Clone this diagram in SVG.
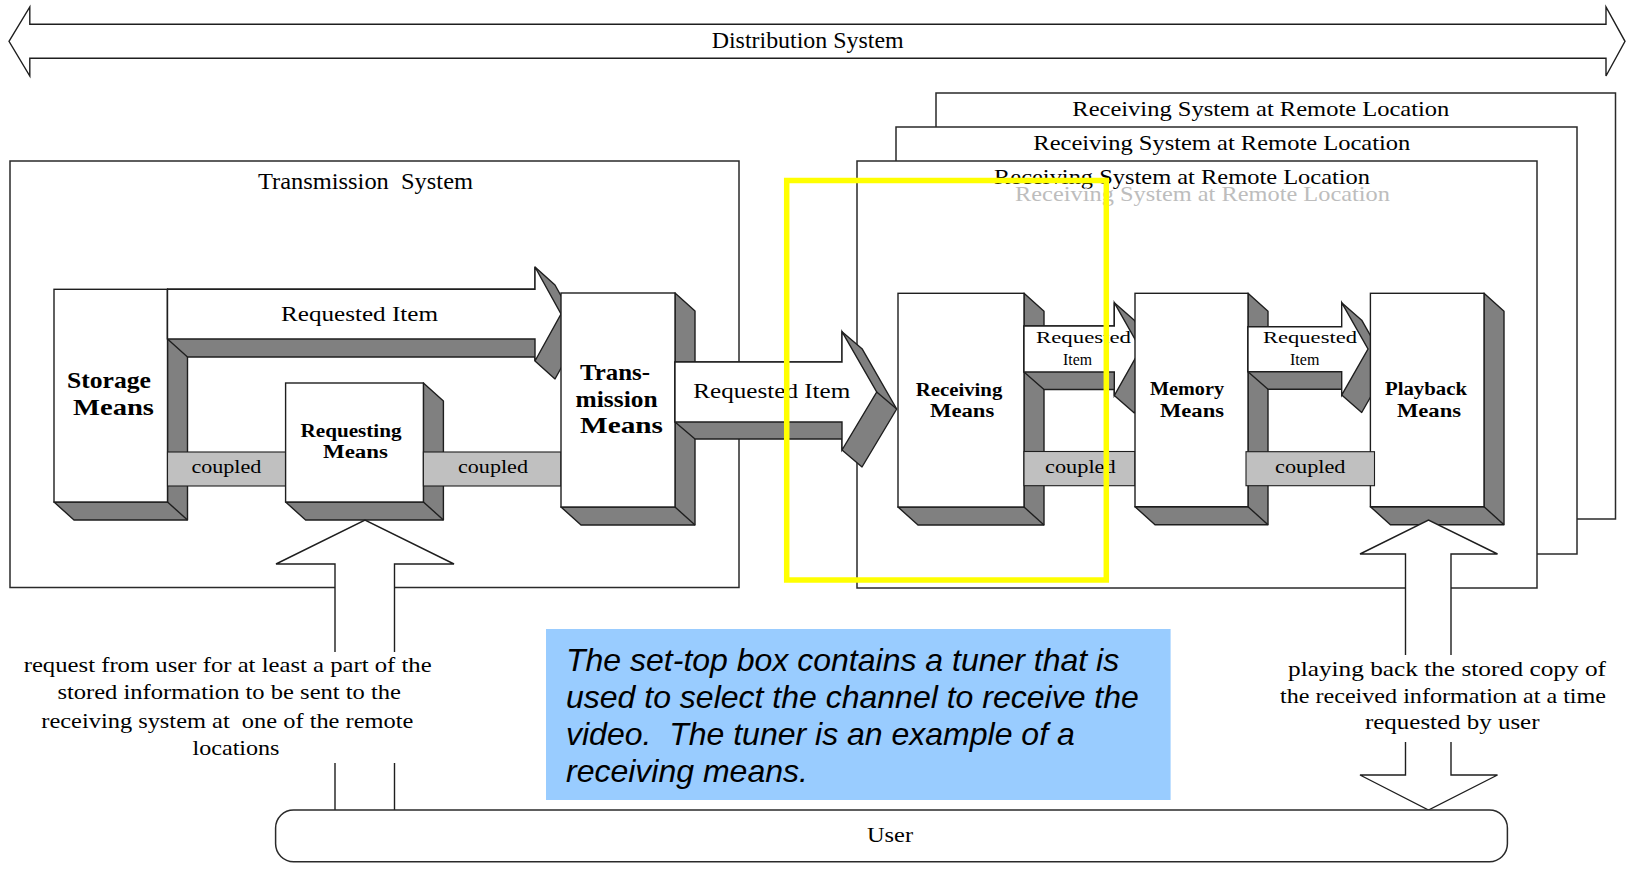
<svg xmlns="http://www.w3.org/2000/svg" width="1630" height="869" viewBox="0 0 1630 869">
<style>
.ln{fill:none;stroke:#1e1e1e;stroke-width:1.4;stroke-linejoin:miter}
.box{fill:#fff;stroke:#2a2a2a;stroke-width:1.5}
.face{fill:#fff;stroke:#1e1e1e;stroke-width:1.4}
.shd{fill:#808080;stroke:#1e1e1e;stroke-width:1.4;stroke-linejoin:round}
.bar{fill:#c0c0c0;stroke:#1e1e1e;stroke-width:1.1}
.wf{fill:#fff;stroke:none}
.t{font-family:"Liberation Serif","Times New Roman",serif;fill:#000}
.b{font-weight:bold}
.g{fill:#bdbdbd}
.note{font-family:"Liberation Sans",Arial,sans-serif;font-style:italic;font-size:32px;fill:#000}
</style>

<g id="distribution-system">
<polygon class="face" points="9,41.3 29.8,7 29.8,24.3 1606,24.3 1606,7 1625,41.3 1606,76 1606,58.3 29.8,58.3 29.8,76"/>
<text class="t" x="711.7" y="48" font-size="23" textLength="192" lengthAdjust="spacingAndGlyphs">Distribution System</text>
</g>

<g id="transmission-system">
<rect class="box" x="10" y="161" width="729" height="426.5"/>
<text class="t" x="258" y="189" font-size="23" textLength="215" lengthAdjust="spacingAndGlyphs" xml:space="preserve">Transmission  System</text>
</g>

<g id="receiving-system-1">
<rect class="box" x="936" y="93" width="679.5" height="426"/>
<text class="t" x="1072.3" y="116" font-size="22" textLength="377" lengthAdjust="spacingAndGlyphs">Receiving System at Remote Location</text>
</g>
<g id="receiving-system-2">
<rect class="box" x="896" y="127" width="681" height="427"/>
<text class="t" x="1033.3" y="150" font-size="22" textLength="377" lengthAdjust="spacingAndGlyphs">Receiving System at Remote Location</text>
</g>
<g id="receiving-system-3">
<rect class="box" x="857" y="161" width="680" height="427"/>
<text class="t" x="994" y="184" font-size="22" textLength="376" lengthAdjust="spacingAndGlyphs">Receiving System at Remote Location</text>
<text class="t g" x="1015" y="200.7" font-size="22" textLength="375" lengthAdjust="spacingAndGlyphs">Receiving System at Remote Location</text>
</g>

<g id="storage-means">
<polygon class="shd" points="167.5,289.3 187.5,307.3 187.5,520 74,520 54,502 167.5,502"/>
<line class="ln" x1="167.5" y1="502" x2="187.5" y2="520"/>
<rect class="face" x="54" y="289.3" width="113.5" height="212.7"/>
<text class="t b" x="67" y="388" font-size="23" textLength="84" lengthAdjust="spacingAndGlyphs">Storage</text>
<text class="t b" x="73" y="415" font-size="23" textLength="81" lengthAdjust="spacingAndGlyphs">Means</text>
</g>

<g id="connectors">
<g id="arrow-storage-transmission">
<polygon class="shd" points="167.5,289.3 535,289.3 535,267 555,285 581,332 555,379 535,361 535,357 187.5,357 167.5,339"/>
<polygon class="face" points="167.5,289.3 535,289.3 535,267 561,314 535,361 535,339 167.5,339"/>
<text class="t" x="281" y="321" font-size="22" textLength="157" lengthAdjust="spacingAndGlyphs">Requested Item</text>
</g>
<g id="coupled-storage-requesting">
<rect class="bar" x="167.5" y="452" width="118.1" height="34"/>
<text class="t" x="191.4" y="473" font-size="18" textLength="70" lengthAdjust="spacingAndGlyphs">coupled</text>
</g>
</g>

<g id="requesting-means">
<polygon class="shd" points="423.4,383 443.4,401 443.4,520 305.6,520 285.6,502 423.4,502"/>
<line class="ln" x1="423.4" y1="502" x2="443.4" y2="520"/>
<rect class="face" x="285.6" y="383" width="137.8" height="119"/>
<text class="t b" x="300.5" y="437" font-size="18" textLength="101" lengthAdjust="spacingAndGlyphs">Requesting</text>
<text class="t b" x="323" y="458" font-size="18" textLength="65" lengthAdjust="spacingAndGlyphs">Means</text>
</g>

<g id="connectors-2">
<g id="coupled-requesting-transmission">
<rect class="bar" x="423.4" y="452" width="137.6" height="34"/>
<text class="t" x="458" y="473" font-size="18" textLength="70" lengthAdjust="spacingAndGlyphs">coupled</text>
</g>
</g>

<g id="transmission-means">
<polygon class="shd" points="675,293 695,311 695,525 581,525 561,507 675,507"/>
<line class="ln" x1="675" y1="507" x2="695" y2="525"/>
<rect class="face" x="561" y="293" width="114" height="214"/>
<text class="t b" x="580" y="380" font-size="23" textLength="70" lengthAdjust="spacingAndGlyphs">Trans-</text>
<text class="t b" x="575.6" y="407" font-size="23" textLength="82" lengthAdjust="spacingAndGlyphs">mission</text>
<text class="t b" x="580" y="433" font-size="23" textLength="83" lengthAdjust="spacingAndGlyphs">Means</text>
</g>

<g id="connectors-3">
<g id="arrow-transmission-receiving">
<polygon class="shd" points="675,362 842,362 842,331.7 862,348.7 896.7,409 862,467 842,450 842,439 695,439 675,422"/>
<polygon class="face" points="675,362 842,362 842,331.7 876.7,392 842,450 842,422 675,422"/>
<line class="ln" x1="876.7" y1="392" x2="896.7" y2="409"/>
<text class="t" x="693.3" y="398" font-size="22" textLength="157" lengthAdjust="spacingAndGlyphs">Requested Item</text>
</g>
</g>

<g id="receiving-means">
<polygon class="shd" points="1024,293.3 1044,311.3 1044,525 918,525 898,507 1024,507"/>
<line class="ln" x1="1024" y1="507" x2="1044" y2="525"/>
<rect class="face" x="898" y="293.3" width="126" height="213.7"/>
<text class="t b" x="915.7" y="395.7" font-size="18" textLength="86.6" lengthAdjust="spacingAndGlyphs">Receiving</text>
<text class="t b" x="930" y="416.7" font-size="18" textLength="64.3" lengthAdjust="spacingAndGlyphs">Means</text>
</g>

<g id="connectors-4">
<g id="arrow-receiving-memory">
<polygon class="shd" points="1024,326 1114.3,326 1114.3,302.7 1134.3,320.2 1160.5,366.5 1134.3,413 1114.3,395.5 1114.3,389.5 1044,389.5 1024,372"/>
<polygon class="face" points="1024,326 1114.3,326 1114.3,302.7 1140.5,349 1114.3,395.5 1114.3,372 1024,372"/>
<text class="t" x="1036" y="343" font-size="17" textLength="95" lengthAdjust="spacingAndGlyphs">Requested</text>
<text class="t" x="1063" y="365" font-size="16" textLength="29" lengthAdjust="spacingAndGlyphs">Item</text>
</g>
<g id="coupled-receiving-memory">
<rect class="bar" x="1024" y="451.5" width="111" height="34.2"/>
<text class="t" x="1045" y="473" font-size="18" textLength="70.7" lengthAdjust="spacingAndGlyphs">coupled</text>
</g>
</g>

<g id="memory-means">
<polygon class="shd" points="1248,293.3 1268,311.3 1268,524.7 1155,524.7 1135,506.7 1248,506.7"/>
<line class="ln" x1="1248" y1="506.7" x2="1268" y2="524.7"/>
<rect class="face" x="1135" y="293.3" width="113" height="213.4"/>
<text class="t b" x="1150" y="395" font-size="18" textLength="74" lengthAdjust="spacingAndGlyphs">Memory</text>
<text class="t b" x="1160" y="416.7" font-size="18" textLength="64" lengthAdjust="spacingAndGlyphs">Means</text>
</g>

<g id="connectors-5">
<g id="arrow-memory-playback">
<polygon class="shd" points="1248,326.7 1341.7,326.7 1341.7,302.7 1361.7,320.2 1388,366.5 1361.7,412.5 1341.7,395 1341.7,389.2 1268,389.2 1248,371.7"/>
<polygon class="face" points="1248,326.7 1341.7,326.7 1341.7,302.7 1368,349 1341.7,395 1341.7,371.7 1248,371.7"/>
<text class="t" x="1263" y="343" font-size="17" textLength="94" lengthAdjust="spacingAndGlyphs">Requested</text>
<text class="t" x="1290" y="365" font-size="16" textLength="29.4" lengthAdjust="spacingAndGlyphs">Item</text>
</g>
</g>

<g id="playback-means">
<polygon class="shd" points="1484,293.3 1504,311.3 1504,524.7 1390.4,524.7 1370.4,506.7 1484,506.7"/>
<line class="ln" x1="1484" y1="506.7" x2="1504" y2="524.7"/>
<rect class="face" x="1370.4" y="293.3" width="113.6" height="213.4"/>
<text class="t b" x="1385" y="395" font-size="18" textLength="82" lengthAdjust="spacingAndGlyphs">Playback</text>
<text class="t b" x="1397" y="416.7" font-size="18" textLength="64" lengthAdjust="spacingAndGlyphs">Means</text>
</g>

<g id="connectors-6">
<g id="coupled-memory-playback">
<rect class="bar" x="1246" y="451.7" width="128.5" height="34"/>
<text class="t" x="1275" y="473" font-size="18" textLength="70.5" lengthAdjust="spacingAndGlyphs">coupled</text>
</g>
<g id="arrow-user-requesting">
<polygon class="wf" points="365,520 454,564 394.5,564 394.5,652 335,652 335,564 276,564"/>
<path class="ln" d="M335,652 V564 H276 L365,520 L454,564 H394.5 V652"/>
<path class="ln" d="M335,763 V810 M394.5,763 V810"/>
</g>
<g id="arrow-playback-user">
<polygon class="wf" points="1428.5,520 1497.5,554 1451,554 1451,655 1405.5,655 1405.5,554 1360,554"/>
<path class="ln" d="M1405.5,655 V554 H1360 L1428.5,520 L1497.5,554 H1451 V655"/>
<polygon class="wf" points="1405.5,742 1451,742 1451,775 1497.5,775 1428.5,810 1360,775 1405.5,775"/>
<path class="ln" d="M1405.5,742 V775 H1360 L1428.5,810 L1497.5,775 H1451 V742"/>
</g>
</g>

<g id="label-request">
<text class="t" x="23.7" y="671.7" font-size="21" textLength="408" lengthAdjust="spacingAndGlyphs">request from user for at least a part of the</text>
<text class="t" x="57.4" y="699" font-size="21" textLength="343.6" lengthAdjust="spacingAndGlyphs">stored information to be sent to the</text>
<text class="t" x="41.3" y="727.7" font-size="21" textLength="372" lengthAdjust="spacingAndGlyphs" xml:space="preserve">receiving system at  one of the remote</text>
<text class="t" x="192.5" y="755" font-size="21" textLength="87" lengthAdjust="spacingAndGlyphs">locations</text>
</g>

<g id="label-playback">
<text class="t" x="1288" y="676" font-size="21" textLength="318" lengthAdjust="spacingAndGlyphs">playing back the stored copy of</text>
<text class="t" x="1280" y="702.5" font-size="21" textLength="326" lengthAdjust="spacingAndGlyphs">the received information at a time</text>
<text class="t" x="1365" y="729" font-size="21" textLength="174.5" lengthAdjust="spacingAndGlyphs">requested by user</text>
</g>

<g id="user">
<rect class="box" x="275.6" y="810" width="1231.8" height="51.7" rx="18" ry="18"/>
<text class="t" x="867" y="842" font-size="22" textLength="46" lengthAdjust="spacingAndGlyphs">User</text>
</g>

<g id="note">
<rect x="546" y="629" width="624.6" height="171" fill="#99ccff"/>
<text class="note" x="566" y="671">The set-top box contains a tuner that is</text>
<text class="note" x="566" y="708">used to select the channel to receive the</text>
<text class="note" x="566" y="745" xml:space="preserve">video.  The tuner is an example of a</text>
<text class="note" x="566" y="782">receiving means.</text>
</g>

<g id="highlight">
<rect x="786.7" y="180.5" width="319.6" height="399.5" fill="none" stroke="#ffff00" stroke-width="5.5"/>
</g>
</svg>
